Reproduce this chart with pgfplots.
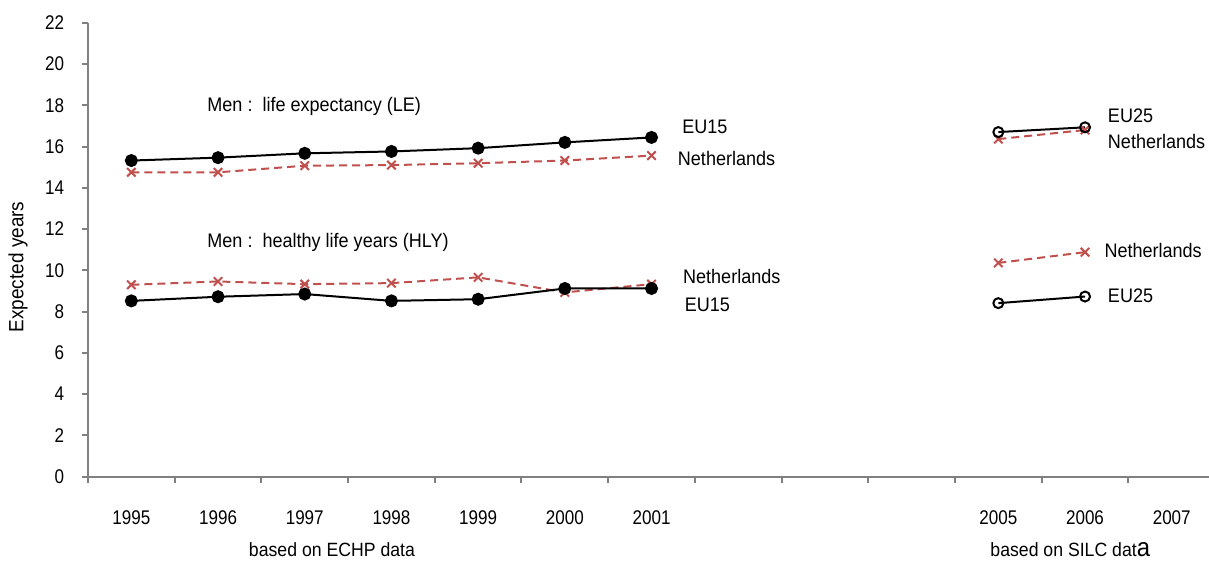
\documentclass[border=0pt]{standalone}
\usepackage{fontspec}
\setmainfont{Liberation Sans}[FakeStretch=0.92]
\newfontfamily\tickfont{Liberation Sans}[FakeStretch=0.86]
\usepackage{pgfplots}
\pgfplotsset{compat=1.18}
\definecolor{nlred}{RGB}{192,80,77}
\begin{document}
\fontsize{9.8pt}{11pt}\selectfont
\begin{tikzpicture}
\useasboundingbox (0,0) rectangle (604.5pt,280.5pt);
\begin{axis}[
 at={(44pt,42.15pt)}, anchor=south west, scale only axis,
 width=560.5pt, height=227pt,
 xmin=-0.5, xmax=12.43, ymin=0, ymax=22,
 axis x line=bottom, axis y line=left,
 axis line style={-, draw=gray, line width=1pt},
 ytick={0,2,...,22},
 xtick={0,1,2,3,4,5,6,10,11,12},
 xticklabels={1995,1996,1997,1998,1999,2000,2001,2005,2006,2007},
 minor xtick={-0.5,0.5,1.5,2.5,3.5,4.5,5.5,6.5,7.5,8.5,9.5,10.5,11.5},
 tick align=outside,
 major tick length=3pt, minor tick length=3pt,
 major x tick style={draw=none},
 minor x tick style={draw=gray, line width=1pt},
 major y tick style={draw=gray, line width=1pt},
 /pgf/number format/assume math mode=true,
 ticklabel style={font=\tickfont\fontsize{9.9pt}{10pt}\selectfont},
 xticklabel style={yshift=-10.5pt},
 yticklabel style={xshift=-5.5pt},
 ylabel={Expected years},
 ylabel style={font=\fontsize{10.3pt}{11pt}\selectfont, at={(axis description cs:-0.0624,0.462)}, anchor=center, rotate=0},
 clip=false,
]
% Life expectancy, ECHP
\addplot[black, line width=1pt, mark=*, mark size=2.75pt, mark options={solid, fill=black}]
 coordinates {(0,15.32) (1,15.46) (2,15.67) (3,15.76) (4,15.92) (5,16.2) (6,16.44)};
\addplot[nlred, line width=1pt, dash pattern=on 4pt off 2.5pt, mark=x, mark size=3pt, mark options={solid}]
 coordinates {(0,14.75) (1,14.75) (2,15.07) (3,15.1) (4,15.19) (5,15.32) (6,15.56)};
% HLY, ECHP
\addplot[nlred, line width=1pt, dash pattern=on 4pt off 2.5pt, mark=x, mark size=3pt, mark options={solid}]
 coordinates {(0,9.3) (1,9.46) (2,9.33) (3,9.38) (4,9.66) (5,8.93) (6,9.33)};
\addplot[black, line width=1pt, mark=*, mark size=2.75pt, mark options={solid, fill=black}]
 coordinates {(0,8.52) (1,8.72) (2,8.85) (3,8.52) (4,8.6) (5,9.12) (6,9.12)};
% SILC
\addplot[nlred, line width=1pt, dash pattern=on 4pt off 2.5pt, mark=x, mark size=3pt, mark options={solid}]
 coordinates {(10,16.36) (11,16.8)};
\addplot[black, line width=1pt, mark=o, mark size=2.5pt, mark options={solid}]
 coordinates {(10,16.7) (11,16.93)};
\addplot[nlred, line width=1pt, dash pattern=on 4pt off 2.5pt, mark=x, mark size=3pt, mark options={solid}]
 coordinates {(10,10.36) (11,10.88)};
\addplot[black, line width=1pt, mark=o, mark size=2.5pt, mark options={solid}]
 coordinates {(10,8.41) (11,8.73)};
% annotations
\node[anchor=west, inner sep=0] at (axis cs:0.873,17.96) {Men :\ \ life expectancy (LE)};
\node[anchor=west, inner sep=0] at (axis cs:0.873,11.37) {Men :\ \ healthy life years (HLY)};
\node[anchor=west, inner sep=0] at (axis cs:6.35,16.94) {EU15};
\node[anchor=west, inner sep=0] at (axis cs:6.30,15.44) {Netherlands};
\node[anchor=west, inner sep=0] at (axis cs:6.36,9.68) {Netherlands};
\node[anchor=west, inner sep=0] at (axis cs:6.38,8.33) {EU15};
\node[anchor=west, inner sep=0] at (axis cs:11.26,17.5) {EU25};
\node[anchor=west, inner sep=0] at (axis cs:11.26,16.24) {Netherlands};
\node[anchor=west, inner sep=0] at (axis cs:11.22,10.97) {Netherlands};
\node[anchor=west, inner sep=0] at (axis cs:11.26,8.77) {EU25};
\node[anchor=center, inner sep=0, font=\fontsize{9.6pt}{11pt}\selectfont] at (axis cs:2.314,-3.55) {based on ECHP data};
\node[anchor=center, inner sep=0, font=\fontsize{9.6pt}{11pt}\selectfont] at (axis cs:10.83,-3.55) {based on SILC dat{\fontsize{13pt}{12pt}\selectfont a}};
\end{axis}
\end{tikzpicture}
\end{document}
